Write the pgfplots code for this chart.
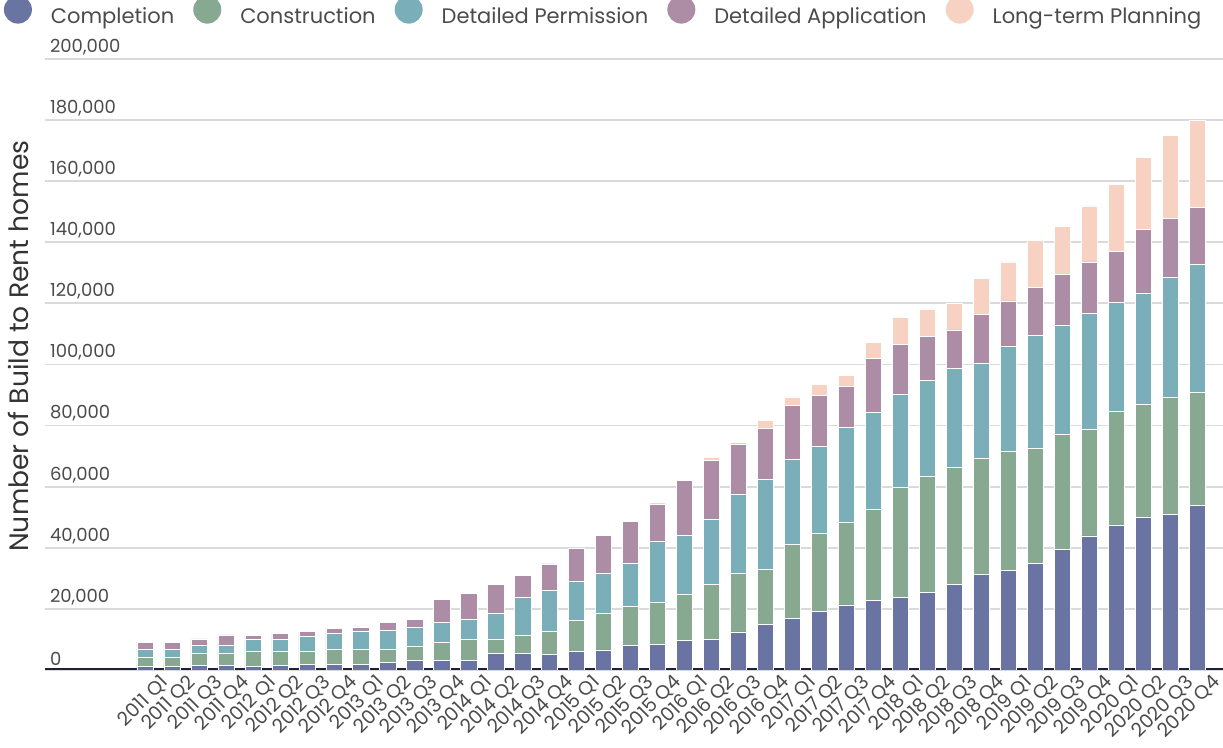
\documentclass[border=0pt]{standalone}
\usepackage{fontspec}
\setmainfont{Poppins}
\usepackage{pgfplots}
\usepackage{pgfplotstable}
\pgfplotsset{compat=1.18}
\definecolor{cComp}{RGB}{106,116,162}
\definecolor{cCons}{RGB}{135,168,145}
\definecolor{cPerm}{RGB}{122,175,186}
\definecolor{cAppl}{RGB}{173,141,165}
\definecolor{cLong}{RGB}{247,210,194}
\definecolor{axisdark}{RGB}{30,33,52}
\definecolor{gridgray}{RGB}{218,218,218}
\definecolor{textgray}{RGB}{75,75,75}

\pgfplotstableread{
x C K P A L
0 1300 2700 2800 2300 0
1 1300 2700 2800 2200 0
2 1400 4100 2500 2200 0
3 1400 4100 2700 3300 0
4 1300 4700 4200 1100 100
5 1600 4400 4200 1800 0
6 1800 4200 5100 1500 0
7 1800 5000 5200 1700 0
8 1900 4900 6000 1200 400
9 2600 4300 6200 2500 0
10 3100 4500 6400 2600 200
11 3200 5900 6400 7600 0
12 3100 7100 6400 8500 0
13 5500 4700 8400 9300 200
14 5300 6100 12500 7100 0
15 5200 7400 13600 8500 200
16 6000 10200 12900 10600 0
17 6600 12000 12900 12500 0
18 8000 12800 14200 13700 0
19 8500 13700 19900 12200 500
20 9600 15200 19200 18000 400
21 10100 18000 21300 19200 1000
22 12500 19000 25900 16600 600
23 15000 18000 29300 16900 2400
24 16800 24200 27900 17700 2800
25 19100 25500 28600 16700 3500
26 21300 27000 31200 13200 3700
27 22900 29600 31700 17700 5200
28 23800 36000 30300 16500 8700
29 25300 38100 31500 14400 8900
30 27900 38400 32600 12400 8700
31 31400 37800 31300 15900 11800
32 32600 39000 34400 14800 12800
33 35000 37700 36800 15800 15300
34 39600 37400 35900 16600 15800
35 43900 34800 37900 17000 18300
36 47500 37200 35700 16700 21900
37 49900 37000 36400 21000 23400
38 51000 38400 39000 19500 27000
39 53800 37100 41900 18600 28600
}\data

\begin{document}
\begin{tikzpicture}
\begin{axis}[
  at={(22.5pt,39pt)}, anchor=south west,
  scale only axis, width=589pt, height=305.5pt,
  ybar stacked, bar width=0.6,
  xmin=-3.71, xmax=39.96, ymin=0, ymax=200000,
  axis line style={draw=none},
  tick style={draw=none},
  ymajorgrids, grid style={line width=0.9pt, color=gridgray},
  xtick={0,...,39},
  xticklabels={2011 Q1,2011 Q2,2011 Q3,2011 Q4,2012 Q1,2012 Q2,2012 Q3,2012 Q4,2013 Q1,2013 Q2,2013 Q3,2013 Q4,2014 Q1,2014 Q2,2014 Q3,2014 Q4,2015 Q1,2015 Q2,2015 Q3,2015 Q4,2016 Q1,2016 Q2,2016 Q3,2016 Q4,2017 Q1,2017 Q2,2017 Q3,2017 Q4,2018 Q1,2018 Q2,2018 Q3,2018 Q4,2019 Q1,2019 Q2,2019 Q3,2019 Q4,2020 Q1,2020 Q2,2020 Q3,2020 Q4},
  xticklabel style={rotate=45, anchor=north east, font=\fontsize{9.6}{11}\selectfont, text=textgray, inner sep=1pt, xshift=5pt, yshift=-5pt},
  ytick={0,20000,...,200000},
  scaled y ticks=false,
  yticklabel style={anchor=south west, font=\fontsize{9}{10}\selectfont, text=textgray, xshift=-1pt, yshift=-1.5pt,
    /pgf/number format/fixed, /pgf/number format/1000 sep={,}, /pgf/number format/assume math mode=true},
  every axis y label/.style={at={(axis description cs:-0.0229,0.53)}, rotate=90, anchor=center},
  ylabel={Number of Build to Rent homes},
  ylabel style={font=\fontsize{13.3}{15}\selectfont, text=black!80},
  legend columns=5,
  legend style={draw=none, fill=none, at={(-0.0403,1.0753)}, anchor=west, font=\fontsize{10.5}{12}\selectfont, text=textgray,
    /tikz/every odd column/.append style={column sep=7.5pt},
    /tikz/every even column/.append style={column sep=7.5pt}},
  legend image code/.code={\fill[#1, draw=none] (7pt,3.6pt) circle (7pt);},
]
\addplot[fill=cComp, draw=white, line width=0.3pt] table[x=x, y=C]{\data};
\addplot[fill=cCons, draw=white, line width=0.3pt] table[x=x, y=K]{\data};
\addplot[fill=cPerm, draw=white, line width=0.3pt] table[x=x, y=P]{\data};
\addplot[fill=cAppl, draw=white, line width=0.3pt] table[x=x, y=A]{\data};
\addplot[fill=cLong, draw=white, line width=0.3pt] table[x=x, y=L]{\data};
\legend{Completion, Construction, Detailed Permission, Detailed Application, Long-term Planning}
\draw[line width=1.6pt, axisdark] (rel axis cs:0,0) -- (rel axis cs:1,0);
\end{axis}
\pgfresetboundingbox
\path[use as bounding box] (0,0) rectangle (611.5pt,374pt);
\end{tikzpicture}
\end{document}
